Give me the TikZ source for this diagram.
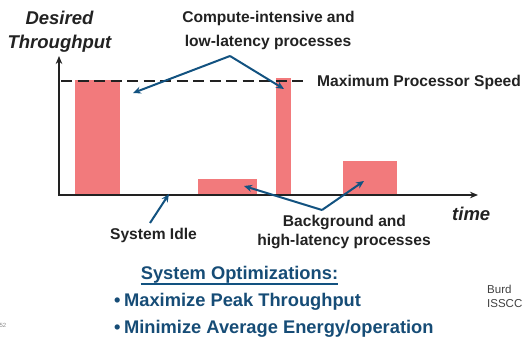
\documentclass[tikz,border=0pt]{standalone}
\usepackage{fontspec}
\setmainfont{Liberation Sans}
\usetikzlibrary{arrows.meta}
\definecolor{barpink}{RGB}{242,122,124}
\definecolor{arrowblue}{RGB}{18,82,128}
\definecolor{textdark}{RGB}{34,34,34}
\definecolor{optblue}{RGB}{22,76,118}
\tikzset{
  bar/.style={fill=barpink, draw=none},
  axisline/.style={draw=textdark, line width=2pt, -{Stealth[length=8pt,width=6.5pt]}},
  maxline/.style={draw=textdark, line width=2pt, dash pattern=on 11pt off 5.5pt},
  pointer/.style={draw=arrowblue, line width=2pt, -{Stealth[length=8pt,width=7pt]}},
  plainblue/.style={draw=arrowblue, line width=2pt},
  lbl/.style={inner sep=0pt, text=textdark, font=\fontsize{15.6}{18}\selectfont\bfseries},
  axlbl/.style={inner sep=0pt, text=textdark, font=\fontsize{18.5}{22}\selectfont\bfseries\itshape},
  opt/.style={inner sep=0pt, text=optblue, font=\fontsize{18.3}{22}\selectfont\bfseries},
  note/.style={inner sep=0pt, text=black!75, font=\fontsize{11.5}{13}\selectfont},
}
\begin{document}
\begin{tikzpicture}[x=1pt,y=-1pt]
\useasboundingbox (0,0) rectangle (523,344);
% bars
\path[bar] (75,80) rectangle (120,195);
\path[bar] (276,78) rectangle (291,195);
\path[bar] (198,179) rectangle (257,195);
\path[bar] (343,161) rectangle (397,195);
% dashed max line
\coordinate (dashA) at (61,81);
\coordinate (dashB) at (306,81);
\draw[maxline] (dashA) -- (dashB);
% axes
\coordinate (origin) at (59,195);
\coordinate (ytop) at (59,56);
\coordinate (xend) at (478,195);
\draw[axisline] (origin) -- (ytop);
\draw[axisline] ([xshift=-1pt]origin) -- (xend);
% axis labels
\node[axlbl, anchor=base] (desired) at (59.5,25) {Desired};
\node[axlbl, anchor=base] (thru) at (59.5,49) {Throughput};
\node[axlbl, anchor=base west] (time) at (452,221) {time};
% labels
\node[lbl, anchor=base] (comp1) at (268.5,23) {Compute-intensive and};
\node[lbl, anchor=base] (comp2) at (268,47) {low-latency processes};
\node[lbl, anchor=base west] (maxs) at (317,87) {Maximum Processor Speed};
\node[lbl, anchor=base] (bg1) at (344.5,227) {Background and};
\node[lbl, anchor=base] (bg2) at (344,246) {high-latency processes};
\node[lbl, anchor=base] (idle) at (153.5,240) {System Idle};
% pointers
\coordinate (apexA) at (230,56);
\coordinate (tipA1) at (133,93);
\coordinate (tipA2) at (284,89);
\draw[pointer] (apexA) -- (tipA1);
\draw[pointer] (apexA) -- (tipA2);
\coordinate (apexB) at (322,210);
\coordinate (tipB1) at (244,186);
\coordinate (tipB2) at (364,181);
\draw[pointer] (apexB) -- (tipB1);
\draw[pointer] (apexB) -- (tipB2);
\coordinate (idleTail) at (150,223);
\coordinate (idleTip) at (169,194);
\draw[pointer] (idleTail) -- (idleTip);
% optimizations
\node[opt, anchor=base] (opttitle) at (239.5,280) {System Optimizations:};
\draw[plainblue, line width=1.6pt] ([yshift=-4pt]opttitle.base west) -- ([yshift=-4pt]opttitle.base east);
\node[opt, anchor=base west] (opt1) at (114,307) {•\hspace{3.5pt}Maximize Peak Throughput};
\node[opt, anchor=base west] (opt2) at (114,334) {•\hspace{3.5pt}Minimize Average Energy/operation};
% notes
\node[note, anchor=base west] (burd) at (487,294) {Burd};
\node[note, anchor=base west] (isscc) at (487,308) {ISSCC};
\node[note, anchor=base east, font=\fontsize{6}{7}\selectfont, text=black!45] (pg) at (6.5,328) {52};
\end{tikzpicture}
\end{document}
